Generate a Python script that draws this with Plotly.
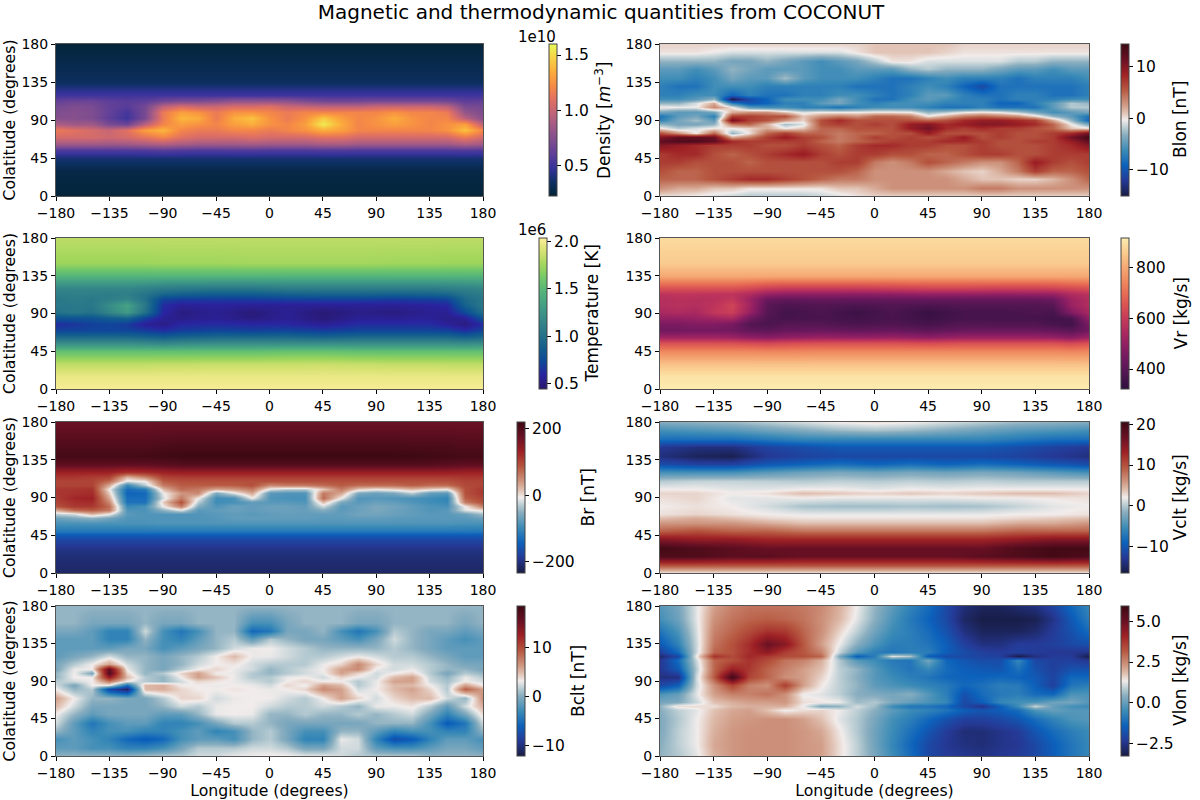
import plotly.graph_objects as go

LON_15 = [-180, -165, -150, -135, -120, -105, -90, -75, -60, -45, -30, -15, 0,
          15, 30, 45, 60, 75, 90, 105, 120, 135, 150, 165, 180]
LON_COARSE = [-180, -165, -150, -135, -120, -105, -90, -75, -45, -15, 15, 45, 75,
              105, 135, 150, 165, 180]
LON_30 = [-180, -150, -120, -90, -60, -30, 0, 30, 60, 90, 120, 150, 180]
TICKS_LON = [-180, -135, -90, -45, 0, 45, 90, 135, 180]
TICKS_CLT = [0, 45, 90, 135, 180]

DENSITY_CLT = [0, 30, 45, 55, 62, 70, 78, 85, 92, 100, 107, 113, 120, 135, 180]
DENSITY = [
    [.24,.24,.24,.24,.24,.24,.24,.24,.24,.24,.24,.24,.24,.24,.24,.24,.24,.24,.24,.24,.24,.24,.24,.24,.24],
    [.27,.27,.27,.27,.27,.27,.27,.27,.27,.27,.27,.27,.27,.27,.27,.27,.27,.27,.27,.27,.27,.27,.27,.27,.27],
    [.38,.38,.38,.38,.38,.38,.38,.38,.38,.38,.38,.38,.38,.38,.38,.38,.38,.38,.38,.38,.38,.38,.38,.38,.38],
    [.55,.55,.55,.55,.55,.56,.58,.56,.55,.55,.56,.56,.55,.55,.55,.56,.56,.55,.55,.55,.55,.55,.55,.56,.55],
    [.85,.85,.85,.84,.85,.88,.92,.88,.85,.85,.85,.87,.85,.85,.85,.88,.88,.85,.85,.85,.85,.85,.85,.9,.85],
    [1.05,1.05,1.05,1.02,1.05,1.12,1.2,1.1,1.05,1.05,1.05,1.08,1.05,1.05,1.05,1.1,1.1,1.05,1.05,1.05,1.05,1.05,1.05,1.15,1.05],
    [1.15,1.1,1.05,1.0,1.1,1.3,1.38,1.2,1.15,1.15,1.2,1.2,1.15,1.2,1.25,1.35,1.3,1.2,1.2,1.2,1.2,1.2,1.25,1.42,1.2],
    [.9,.85,.85,.7,.65,.95,1.2,1.3,1.25,1.2,1.3,1.35,1.25,1.2,1.3,1.55,1.35,1.2,1.25,1.3,1.25,1.2,1.25,1.3,.95],
    [.75,.75,.72,.6,.5,.7,1.15,1.38,1.35,1.15,1.35,1.42,1.25,1.15,1.25,1.45,1.3,1.2,1.25,1.35,1.25,1.2,1.2,.95,.75],
    [.72,.75,.72,.62,.52,.7,1.15,1.3,1.25,1.15,1.25,1.25,1.2,1.15,1.2,1.2,1.2,1.2,1.2,1.25,1.2,1.2,1.15,.8,.72],
    [.68,.72,.7,.62,.58,.68,.95,1.05,1.0,1.0,1.05,1.05,1.08,1.0,.98,.95,.95,.95,1.0,1.0,1.0,1.0,.95,.7,.68],
    [.62,.65,.65,.6,.58,.6,.68,.72,.72,.75,.8,.8,.8,.78,.72,.68,.68,.68,.7,.7,.7,.7,.68,.6,.62],
    [.5,.5,.5,.5,.5,.5,.5,.5,.5,.5,.5,.5,.5,.5,.5,.5,.5,.5,.5,.5,.5,.5,.5,.5,.5],
    [.33,.33,.33,.33,.33,.33,.33,.33,.33,.33,.33,.33,.33,.33,.33,.33,.33,.33,.33,.33,.33,.33,.33,.33,.33],
    [.24,.24,.24,.24,.24,.24,.24,.24,.24,.24,.24,.24,.24,.24,.24,.24,.24,.24,.24,.24,.24,.24,.24,.24,.24],
]

COARSE_CLT = [0, 15, 30, 45, 55, 62, 70, 78, 85, 92, 100, 107, 113, 120, 135, 150, 180]
TEMPERATURE = [
    [2.02,2.02,2.02,2.02,2.02,2.02,2.02,2.02,2.02,2.02,2.02,2.02,2.02,2.02,2.02,2.02,2.02,2.02],
    [1.97,1.97,1.97,1.97,1.97,1.97,1.97,1.97,1.97,1.97,1.97,1.97,1.97,1.97,1.97,1.97,1.97,1.97],
    [1.84,1.84,1.84,1.84,1.84,1.84,1.85,1.85,1.86,1.86,1.86,1.87,1.86,1.85,1.85,1.84,1.84,1.84],
    [1.55,1.55,1.55,1.55,1.55,1.55,1.55,1.55,1.55,1.55,1.57,1.57,1.55,1.55,1.55,1.55,1.55,1.55],
    [1.2,1.2,1.2,1.2,1.2,1.18,1.15,1.18,1.2,1.2,1.2,1.2,1.2,1.2,1.2,1.2,1.18,1.2],
    [.95,.95,.95,.95,.95,.92,.88,.92,.95,.95,.95,.92,.95,.95,.95,.95,.9,.95],
    [.72,.72,.72,.72,.72,.68,.62,.68,.72,.7,.72,.68,.72,.72,.72,.7,.62,.72],
    [.62,.66,.7,.72,.68,.55,.52,.6,.62,.6,.6,.55,.62,.62,.62,.56,.5,.62],
    [.8,.8,.8,.85,.9,.7,.55,.52,.55,.5,.55,.48,.55,.55,.56,.52,.55,.8],
    [1.0,1.05,1.0,1.15,1.3,1.0,.6,.5,.55,.48,.55,.47,.52,.5,.55,.55,.75,1.0],
    [1.05,1.05,1.05,1.2,1.35,1.05,.62,.55,.57,.55,.55,.55,.55,.55,.57,.6,.9,1.05],
    [1.05,1.08,1.05,1.1,1.15,1.0,.72,.68,.68,.68,.7,.7,.7,.68,.7,.72,.95,1.05],
    [1.08,1.1,1.1,1.08,1.1,1.02,.92,.88,.85,.85,.88,.9,.9,.88,.9,.92,1.02,1.08],
    [1.15,1.15,1.15,1.15,1.15,1.12,1.08,1.06,1.05,1.05,1.08,1.08,1.08,1.08,1.08,1.1,1.12,1.15],
    [1.47,1.47,1.47,1.47,1.47,1.47,1.47,1.47,1.47,1.47,1.47,1.47,1.47,1.47,1.47,1.47,1.47,1.47],
    [1.74,1.74,1.74,1.74,1.74,1.74,1.75,1.75,1.75,1.76,1.76,1.76,1.76,1.75,1.75,1.74,1.74,1.74],
    [1.83,1.83,1.83,1.83,1.83,1.83,1.83,1.83,1.83,1.83,1.83,1.83,1.83,1.83,1.83,1.83,1.83,1.83],
]

VR = [
    [915,915,915,915,915,915,915,915,915,915,915,915,915,915,915,915,915,915],
    [900,900,900,900,900,900,900,900,900,900,900,900,900,900,900,900,900,900],
    [845,845,845,845,845,845,845,845,845,845,845,845,845,845,845,845,845,845],
    [745,745,745,745,745,745,740,740,745,745,745,745,745,745,745,745,740,745],
    [650,650,650,650,650,640,630,640,650,650,650,640,650,650,650,650,635,650],
    [520,520,520,520,515,490,480,495,510,500,510,490,510,510,510,500,480,520],
    [440,440,445,445,440,415,405,420,425,415,420,405,425,425,425,415,400,440],
    [455,460,470,470,450,390,375,390,390,375,385,365,390,385,385,370,355,455],
    [500,500,510,525,540,440,380,365,370,355,370,345,365,365,365,355,370,500],
    [540,550,540,590,610,510,395,360,375,345,375,340,365,365,375,370,470,540],
    [560,570,560,580,620,530,400,375,385,375,385,375,385,385,385,395,510,560],
    [560,570,565,570,590,520,430,415,420,420,420,420,420,420,420,430,520,560],
    [575,585,580,575,580,550,505,490,490,485,490,500,500,495,500,505,550,575],
    [650,650,650,650,650,635,610,600,600,600,610,620,620,615,615,620,635,650],
    [800,800,800,800,800,800,800,800,800,800,800,800,800,800,800,800,800,800],
    [860,860,860,860,860,860,860,860,860,860,860,860,860,860,860,860,860,860],
    [885,885,885,885,885,885,885,885,885,885,885,885,885,885,885,885,885,885],
]

BLON_CLT = [0, 10, 20, 30, 40, 50, 60, 65, 70, 75, 80, 85, 90, 95, 100, 105, 110, 115, 120, 130, 140, 150, 160, 170, 180]
BLON = [
    [0,0,-.5,-1,-1.5,-2,-2,-2,-2,-1.5,-1,0,.5,.5,.5,.5,.5,.5,.5,.5,.5,.5,.5,.5,.5],
    [3,2,2,1,1,0,0,0,0,0,1,1,2,3,3,3,3,3,4,4,3,3,3,3,3],
    [5,5,5,6,7,8,8,7,6,5,4,4,3,3,3,3,3,2,1,1,.5,.5,1.5,3,5],
    [6,5,5,6,6,6,6,6,6,6,6,5,3,3,3,3,2,1,.5,2,4,7,5,5,6],
    [7,7,6,6,6,5,6,6,6,6,7,7,4,3,4,6,5,4,3,3,5,9,7,6,7],
    [7,8,8,6,5,6,7,8,9,7,6,7,7,6,6,5,5,6,7,7,6,6,7,7,7],
    [10,9,8,7,7,7,6,6,7,6,5,7,8,8,7,7,6,6,7,6,6,6,7,8,10],
    [12,13,13,12,8,7,7,7,7,5,4,5,6,7,7,7,8,8,7,6,6,7,7,9,12],
    [10,12,12,11.5,2,4,7,9,7,6,4,5,7,6,7,6,7,9,6,7,6,6,7,11,14],
    [6,3,-.3,5,-3,0,5,7,5,5,4,5,5,6,6,9,6,6,6,7,6,6,7,8,11],
    [0,-2,-1,-.2,-.3,.5,2,-.3,1,5,5,6,6,6,9,11,8,7,8,7,7,6,5,1,0],
    [-3,-4,-4,-3,4,5,1.5,-2.5,-1,6,7,6,7,6,9,10,8,9,10,10,9,8,5,-.3,-4],
    [-7,-4,-2.5,-5,11,7,6,3,.5,6,8,6,6,6,6,5,6,8,9,9,8,7,2,-3,-9],
    [-8,-5,-4,-7,7,7,6,6,1,3,4,3,5,5,4,0,2,4,5,4,3,.5,-3,-5,-8],
    [-4,-5,-5,-4,2,3,3,1,-1,-.3,-.3,-.3,0,0,-.3,-3,-2,-.5,0,-.5,-2,-4,-6,-5,-4],
    [0,-.5,-.5,3.5,-.3,-5,-6,-6,-7,-7,-8,-7,-6,-6,-6,-7,-8,-8,-7,-8,-8,-8,-5,-2,-2],
    [-3,-3,-1,2,-7,-10,-9,-7,-7,-5,-4,-6,-7,-6,-6,-6,-7,-7,-7,-9,-9,-7,-5,-2,-3],
    [-6,-6,-5,-3,-15,-11,-9,-6,-6,-6,-4,-6,-8,-8,-6,-5,-6,-7,-7,-8,-7,-7,-7,-6,-6],
    [-7,-7,-6,-6,-9,-7,-8,-8,-7,-7,-6,-6,-7,-8,-7,-5,-5,-7,-8,-8,-7,-7,-8,-8,-7],
    [-7,-8,-8,-6,-6,-6,-7,-7,-7,-7,-7,-8,-8,-8,-7,-6,-7,-9,-11,-8,-8,-8,-8,-8,-7],
    [-6,-6,-7,-6,-4,-5,-5,-2.5,-5,-6,-6,-6,-7,-8,-8,-7,-6,-7,-7,-7,-8,-7,-7,-7,-6],
    [-5,-5,-6,-5,-3,-4,-5,-5,-5,-6,-6,-5,-5,-5,-3,-2,-3,-3,-3,-4,-5,-5,-6,-5,-5],
    [-3,-3,-3,-3,-4,-4,-3,-4,-5,-6,-5,-4,-2,0,0,-1,-1,-1,-1,-1,-2,-2,-3,-3,-3],
    [0,0,0,-.5,-1,-1,-1,-1,-1,-1,-1,0,1,1,1,1,.5,0,0,0,0,0,0,0,0],
    [.5,.5,.5,.5,.5,.5,.5,.5,.5,.5,.5,.5,1,1,1,1,1,.5,.5,.5,.5,.5,.5,.5,.5],
]

BR_CLT = [0, 20, 30, 40, 45, 50, 60, 65, 70, 75, 80, 85, 90, 95, 100, 105, 110, 115, 120, 130, 140, 150, 180]
BR = [
    [-215,-215,-215,-215,-215,-215,-215,-215,-215,-215,-215,-215,-215,-215,-215,-215,-215,-215,-215,-215,-215,-215,-215,-215,-215],
    [-205,-205,-205,-205,-205,-205,-205,-205,-205,-205,-205,-205,-205,-205,-205,-205,-205,-205,-205,-205,-205,-205,-205,-205,-205],
    [-195,-195,-195,-195,-195,-195,-195,-195,-195,-195,-195,-195,-195,-195,-195,-195,-195,-195,-195,-195,-195,-195,-195,-195,-195],
    [-170,-170,-170,-170,-170,-170,-170,-170,-170,-170,-170,-170,-170,-170,-170,-170,-170,-170,-170,-170,-170,-170,-170,-170,-170],
    [-150,-150,-150,-150,-150,-150,-150,-150,-150,-150,-150,-150,-150,-150,-150,-150,-150,-150,-150,-150,-150,-150,-150,-150,-150],
    [-118,-118,-118,-118,-118,-118,-118,-118,-118,-118,-118,-118,-118,-118,-118,-118,-118,-118,-118,-118,-118,-118,-118,-118,-118],
    [-88,-88,-88,-88,-88,-88,-85,-85,-85,-85,-85,-85,-85,-85,-85,-85,-85,-85,-85,-85,-85,-85,-85,-88,-88],
    [-70,-60,-50,-65,-85,-85,-85,-85,-85,-82,-75,-75,-75,-75,-75,-78,-78,-75,-75,-78,-80,-80,-80,-80,-70],
    [-30,-20,20,-10,-80,-85,-85,-85,-85,-80,-75,-80,-75,-72,-75,-75,-75,-65,-65,-70,-75,-80,-80,-70,-40],
    [30,70,80,60,-85,-88,-50,-15,-80,-75,-70,-75,-70,-70,-72,-55,-78,-70,-60,-68,-75,-85,-80,-15,0],
    [90,110,110,70,-100,-90,-7,60,-55,-85,-70,-75,-70,-70,-75,-20,-80,-70,-60,-65,-75,-85,-90,-5,60],
    [100,115,120,50,-125,-125,10,90,-30,-95,-90,-75,-80,-80,-85,20,-60,-80,-70,-75,-85,-95,-100,60,90],
    [105,125,130,30,-130,-130,-20,60,-7,-95,-90,-10,-85,-90,-90,70,-10,-85,-80,-85,-90,-95,-105,80,100],
    [110,115,120,10,-140,-135,-10,40,50,-60,-15,30,-80,-85,-85,60,30,-60,-70,-60,-30,-75,-80,90,110],
    [110,112,115,-7,-130,-115,20,70,60,30,40,60,-15,-30,-30,10,60,10,-5,5,20,5,-5,90,110],
    [100,100,100,30,-100,-30,60,80,80,80,80,90,50,60,60,70,80,70,70,70,80,70,70,95,100],
    [100,100,100,70,-15,-5,80,90,90,90,90,90,90,90,90,90,90,90,90,90,90,90,90,100,100],
    [110,110,105,100,20,50,100,105,105,105,105,105,105,105,105,105,105,105,105,105,105,105,105,110,110],
    [130,130,130,130,115,120,130,135,135,135,135,135,135,135,135,135,135,135,135,135,135,135,135,130,130],
    [185,185,185,185,185,185,190,195,195,195,195,195,195,195,195,195,195,195,195,195,195,195,190,185,185],
    [210,210,210,210,210,212,215,218,218,218,218,218,218,218,218,218,218,218,218,218,218,215,212,210,210],
    [200,200,200,200,200,200,205,208,208,208,208,208,208,208,208,208,208,208,208,208,205,205,205,200,200],
    [172,172,172,172,172,172,172,172,172,172,172,172,172,172,172,172,172,172,172,172,172,172,172,172,172],
]

BCLT_CLT = [0, 10, 20, 30, 40, 50, 60, 70, 80, 85, 90, 95, 100, 105, 110, 120, 130, 140, 150, 160, 180]
BCLT = [
    [.5,.5,.5,.5,.5,1,1.5,1.5,2.3,2.3,3,3.2,3.4,3.4,3,3,2.3,1.5,1.5,1.5,1.5,.5,.5,.5,.5],
    [-1.5,-1.5,-2.5,-2.5,-3.5,-3.5,-2.5,-.5,1.5,1.5,1.5,2.3,2.3,1.5,-.5,-.5,2.3,2.3,-1.5,-2.5,-2.5,-1.5,-.5,-.5,-1.5],
    [-2.5,-1.5,-2.5,-3.5,-5.5,-6.5,-5.5,-2.5,-1.5,-1.5,-2.5,.5,1.5,-.5,-3.5,-3.5,3,2.3,-3.5,-7.5,-6.5,-3.5,-1.5,-1.5,-2.5],
    [.5,-1.5,-3.5,-2.5,-2.5,-3.5,-3.5,-2.5,-1.5,-3.5,-2.5,.5,1.5,-.5,-2.5,-2.5,.5,.5,-1.5,-3.5,-2.5,-2.5,-3.5,-3.5,.5],
    [2.3,-1.5,-4.5,-2.5,-1.5,-1.5,-3.5,-3.5,-2.5,-.5,1.5,1.5,.5,-.5,-.5,-.5,-.5,-.5,.5,.5,.5,-2.5,-6.5,-4.5,2.3],
    [3.2,.5,-1.5,-.5,-.5,-.5,-1.5,-1.5,.5,3,3.2,3,.5,.5,1.5,.5,.5,1.5,.5,1.5,2.3,-.5,-3.5,-.5,4],
    [5,2.3,-.5,-.5,-.5,-.5,.5,2.3,1.5,3,3.2,3.2,2.3,1.5,1.5,2.3,1.5,.5,3,3,3.5,1.5,-1.5,2.3,5.5],
    [6,3.2,.5,.5,-.5,-.5,1.5,4,4,2.3,3,3.2,3.2,2.3,1.5,3.2,6,4,2.3,4,5,5,2.3,.5,7],
    [3.2,.5,1.5,-8,-11,5,5.5,4,3.2,3.2,3.5,3.2,3,3.2,4,7,6,2.3,3.2,5,6,4,1.5,9,6],
    [2.3,-.5,3.2,3,-5,5,5.5,3.2,3.2,3,3.2,3,2.3,4,3,6,5,1.5,3,5,5,3.2,1.5,6,3.2],
    [1.5,2.3,3.2,8,3.2,1.5,.5,2.3,4,3.5,3,2.3,1.5,3.2,4,3.2,3.2,1.5,3,6,6,2.3,1,3.2,2.3],
    [.5,3.2,3.2,13,5,1.5,.5,3.2,6,4.5,3,1.5,1.5,3,3.2,2.3,4,3,2.3,5,6,2,.5,3,1.5],
    [.5,3.2,-.5,17,4,.5,1.5,4,6,3.2,3,1.5,.5,1.5,2.3,3,6,4,2.3,3.2,4,1.5,-.5,1.5,.5],
    [-.5,3,3.2,16,3,.5,-.5,1.5,3.2,4,3,2.3,.5,1.5,2.3,3.2,6,7,3,2.3,3,1.5,.5,.5,-.5],
    [-.5,1.5,3.2,6,2.3,.5,-.5,.5,2.3,3.2,3.5,2.3,1.5,1.5,1.5,3,4,7,4,2.3,2.3,1.5,.5,-.5,-.5],
    [-1.5,-.5,.5,2.3,.5,.5,-.5,.5,1.5,3.2,5,3,3,2.3,1.5,1.5,2.3,3,2.3,1.5,1.5,.5,-.5,-1.5,-1.5],
    [-1.5,-1.5,-1.5,-1.5,-.5,-.5,-2.5,-1.5,-.5,.5,2.3,3,3.2,2.3,1.5,.5,.5,.5,.5,1.5,.5,-.5,-1.5,-1.5,-1.5],
    [-1.5,-1.5,-1.5,-3.5,-3.5,.5,-2.5,-3.5,-1.5,.5,1.5,-1.5,1.5,.5,-.5,-.5,-1.5,-2.5,-.5,2.3,.5,-.5,-1.5,-2.5,-1.5],
    [-.5,-.5,-1.5,-3.5,-3.5,2.3,-2.5,-4.5,-2.5,.5,.5,-5.5,-4.5,-.5,-.5,.5,-2.5,-4.5,-2.5,1.5,.5,-.5,-.5,-1.5,-.5],
    [.5,.5,-.5,-.5,-.5,.5,-.5,-.5,.5,.5,.5,-2.5,-2.5,-.5,.5,.5,.5,-.5,-.5,.5,.5,.5,.5,-.5,.5],
    [.5,.5,.5,.5,.5,.5,.5,.5,.5,.5,.5,.5,.5,.5,.5,.5,.5,.5,.5,.5,.5,.5,.5,.5,.5],
]

VCLT_CLT = [0, 10, 20, 30, 40, 50, 60, 65, 70, 80, 90, 95, 100, 110, 120, 130, 140, 150, 160, 170, 180]
VCLT = [
    [2,2,2,2,2,2,2,2,2,2,2,2,2],
    [10,10,10,10,10,10,10,10,10,10,10,10,10],
    [19,19,18,18,17,17,17,17,17,18,19,20,19],
    [20,19,18,17,17,17,17,17,17,17,19,20,20],
    [15,14,14,13,13,13,13,13,13,13,14,15,15],
    [9,10,9,9,8,8,8,8,8,8,9,9,9],
    [6,6,6,5,4,4,4,4,4,4,5,5,6],
    [4,5,4,3,2.5,2.5,2.5,2.5,2.5,2.5,3,3.5,4],
    [2.5,3,2.5,2,1.7,1.7,1.7,1.7,1.7,1.7,2,2,2.5],
    [2,2.5,2,1,-.5,-.8,-.8,-.5,-.8,-.5,.5,1.5,2],
    [2.5,3,1.5,1.5,1.8,1.5,1.5,1.5,1.5,1.8,1.8,2.2,2.5],
    [3,3,2,2.5,4,3.5,3,3.5,3,3.5,4,4,3],
    [2,2,1.5,1.5,2,2,1.5,2,1.8,2,2,2,2],
    [0,.5,.5,.3,0,.3,0,.3,0,.3,0,0,0],
    [-5,-5,-5,-4,-3,-2.5,-3,-2.5,-3,-2.5,-3,-4,-5],
    [-11,-12,-12,-10,-9,-8,-9,-8,-9,-8,-9,-10,-11],
    [-14,-15.5,-16,-13,-12,-11.5,-11.5,-11.5,-11.5,-11.5,-12,-13,-14],
    [-13,-14,-14,-12,-11,-10,-10,-10,-10,-10,-11,-12,-13],
    [-8,-8,-8,-7,-6,-6,-6,-6,-6,-6,-7,-8,-8],
    [-5,-4.5,-4,-3,-2,-1,-.5,-1,-2,-3,-4,-4.5,-5],
    [-2,-1.5,-1,0,1,2,2.5,2,1,0,-1,-1.5,-2],
]

VLON_CLT = [0, 15, 30, 45, 55, 60, 65, 75, 85, 95, 105, 115, 120, 125, 135, 150, 165, 180]
VLON = [
    [.5,.8,1.2,2,2.3,2.4,2.4,2.4,2.3,2.2,1.5,.9,.2,-.5,-1.2,-2,-2.3,-2.4,-2.5,-2.4,-2.3,-2,-1.5,-1,-.6],
    [.4,.9,1.3,2.1,2.3,2.4,2.4,2.4,2.3,2.2,1.5,.9,.1,-.6,-1.3,-2,-2.4,-2.6,-2.7,-2.5,-2.4,-2,-1.5,-1,-.6],
    [.3,.9,1.3,2,2.3,2.4,2.4,2.4,2.3,2.1,1.4,.8,.1,-.5,-1.1,-1.7,-2.3,-2.7,-2.7,-2.5,-2.3,-1.7,-1.2,-.8,-.5],
    [.3,.8,1.3,1.9,2.2,2.3,2.4,2.4,2.2,1.8,1.2,.8,.2,-.4,-.8,-1.3,-1.8,-2.2,-2.2,-2,-1.7,-1.2,-.7,-.3,-.2],
    [.4,.9,1.2,1.8,2.1,2.2,1.8,1.3,1.5,1.6,1.3,.9,.4,-.1,-.5,-.7,-1,-1.5,-1.7,-1.5,-1.2,-.3,0,-.2,-.2],
    [.5,1.5,1.5,1.5,1.9,2,2,2,1.3,.3,.5,1.1,.6,-.5,-1,-1,-1.3,-2,-2.5,-1.5,-.5,1,0,-.4,-.5],
    [.2,.3,1,1.8,2,2.2,2.2,2.3,1.5,1.4,1.3,.6,.8,.3,0,-.3,-.6,-2,-1.5,-.6,-.4,-.3,.1,.2,-.2],
    [-.3,0,1.2,2.2,2.6,2.6,2.8,2.4,1.3,1.2,.9,.4,.3,.2,.4,-.2,-.8,-1.8,-1.2,-.9,-.8,-1.2,-1.3,-.3,-.3],
    [-2,-1.5,1,2.4,3.5,2.6,2.4,3.6,2.2,1.4,.9,.5,-.1,-.3,-.5,-.7,-.9,-1.3,-1.1,-.8,-.9,-1.5,-2.2,-1,-.8],
    [-2.6,-2.6,1,3.2,5.8,3.5,3,2.4,2.2,1.6,.9,.4,-.2,-.5,-.8,-1,-1.3,-1.4,-1.4,-1.3,-1.4,-1.6,-2.1,-1.3,-1.3],
    [-2.4,-1.6,.8,3,4.2,3.7,3,2.6,2.2,1.8,.9,.5,-.2,-.7,-1,-.6,-1.2,-1.5,-1.6,-1.7,-1.1,-1.8,-2.2,-1.8,-1.8],
    [-2.4,-1.2,1,3,3.3,3.8,3.4,2.8,2.6,2,.8,-.2,-.5,-.9,-1,.2,-1.3,-1.7,-1.9,-1.9,-.6,-2,-2.2,-2.2,-2.4],
    [-2.8,-2,1.3,3.8,3.4,4,3.7,3.4,3.3,3,.3,-1.5,-.8,1.2,.8,-1.5,-1.9,-2,-2.1,-2.2,-3.2,-2.6,-2.3,-2.3,-3.2],
    [-2.2,-1.2,1,3,3.3,3.9,4.4,3.6,3.2,2.6,1,-.2,-.8,-1,-.8,-.8,-1.5,-1.9,-2.2,-2.3,-2.2,-2.3,-2.4,-2.4,-2.5],
    [-1.6,-.7,1,2.8,3.3,3.9,5,4.5,3.2,2.2,1.3,.4,-.3,-.8,-.8,-1,-1.5,-2.2,-2.6,-2.6,-2.3,-2.3,-2.2,-2,-1.8],
    [-1,-.3,1.1,2.6,3,3.4,3.8,3.7,3,2.4,1.6,.9,.1,-.5,-.8,-1.2,-1.8,-2.6,-3,-3,-3,-2.8,-2.3,-1.8,-1.2],
    [-.4,.1,1.2,2.4,2.8,3,3.1,3,2.8,2.4,1.9,1.2,.4,-.3,-.9,-1.4,-2,-2.9,-3.2,-3.2,-3.2,-3.1,-2.5,-1.6,-.8],
    [-.2,.2,1.2,2.2,2.6,2.8,2.8,2.8,2.7,2.5,2,1.3,.5,-.1,-.7,-1.2,-2,-2.7,-3,-3,-2.8,-2.6,-2.1,-1.3,-.6],
]

# cmocean balance, with its near-white centre kept
BALANCE = [
    [0, "rgb(24,28,67)"], [.1, "rgb(37,57,150)"], [.2, "rgb(12,97,187)"], [.3, "rgb(59,139,183)"],
    [.4, "rgb(136,173,191)"], [.45, "rgb(186,205,211)"], [.5, "rgb(241,236,235)"], [.55, "rgb(224,192,177)"],
    [.6, "rgb(208,154,132)"], [.7, "rgb(183,88,65)"], [.8, "rgb(159,33,37)"], [.9, "rgb(105,16,36)"],
    [1, "rgb(60,9,18)"],
]

W, H = 1200, 800
LEFT_X, RIGHT_X = (56, 483), (660, 1089)
ROWS_Y = [(44, 196), (238, 389), (422, 573), (606, 756)]

# lon, colat, z, colormap, zmin, zmax, ticks, fmt, label, row, col, bar px, label px
PANELS = [
    (LON_15, DENSITY_CLT, DENSITY, "thermal", .22, 1.60, [.5, 1.0, 1.5], ".1f",
     "Density [<i>m</i><sup>−3</sup>]", 0, 0, 549, 603),
    (LON_15, BLON_CLT, BLON, BALANCE, -15.1, 14.4, [-10, 0, 10], "d", "Blon [nT]", 0, 1, 1121, 1180),
    (LON_COARSE, COARSE_CLT, TEMPERATURE, "haline", .44, 2.04, [.5, 1.0, 1.5, 2.0], ".1f",
     "Temperature [K]", 1, 0, 539, 591),
    (LON_COARSE, COARSE_CLT, VR, "matter_r", 321, 918, [400, 600, 800], "d", "Vr [kg/s]", 1, 1, 1121, 1180),
    (LON_15, BR_CLT, BR, BALANCE, -233, 219, [-200, 0, 200], "d", "Br [nT]", 2, 0, 517, 588),
    (LON_30, VCLT_CLT, VCLT, BALANCE, -16.6, 20.6, [-10, 0, 10, 20], "d", "Vclt [kg/s]", 2, 1, 1121, 1180),
    (LON_15, BCLT_CLT, BCLT, BALANCE, -12.1, 18.5, [-10, 0, 10], "d", "Bclt [nT]", 3, 0, 517, 578),
    (LON_15, VLON_CLT, VLON, BALANCE, -3.27, 5.94, [-2.5, 0, 2.5, 5], ".1f", "Vlon [kg/s]", 3, 1, 1121, 1180),
]

FONT = "DejaVu Sans"
fig = go.Figure()
for i, (lon, clt, z, cmap, zmin, zmax, ticks, fmt, label, row, col, bar_x, label_x) in enumerate(PANELS, start=1):
    x0, x1 = RIGHT_X if col else LEFT_X
    top, bottom = ROWS_Y[row]
    fig.add_trace(go.Heatmap(
        x=lon, y=clt, z=z, colorscale=cmap, zmin=zmin, zmax=zmax, zsmooth="best",
        xaxis=f"x{i}", yaxis=f"y{i}",
        colorbar=dict(
            x=bar_x / W, xanchor="left", xref="paper", thickness=8, thicknessmode="pixels",
            y=1 - bottom / H, yanchor="bottom", yref="paper", len=(bottom - top) / H, lenmode="fraction",
            tickvals=ticks, tickformat=fmt, ticks="outside", ticklen=4, tickcolor="black",
            tickfont=dict(family=FONT, size=15.5, color="black"),
            outlinecolor="#444", outlinewidth=1, xpad=0, ypad=0,
        ),
    ))
    suffix = "" if i == 1 else str(i)
    fig.update_layout({
        f"xaxis{suffix}": dict(
            domain=[x0 / W, x1 / W], anchor=f"y{i}", range=[-180, 180], automargin=False,
            tickvals=TICKS_LON, ticks="outside", ticklen=4, tickcolor="black",
            showline=True, mirror=True, linecolor="#555", showgrid=False, zeroline=False,
            tickfont=dict(family=FONT, size=14, color="black"),
            title=dict(text="Longitude (degrees)", font=dict(family=FONT, size=15.7, color="black"), standoff=3) if row == 3 else None,
        ),
        f"yaxis{suffix}": dict(
            domain=[1 - bottom / H, 1 - top / H], anchor=f"x{i}", range=[0, 180], automargin=False,
            tickvals=TICKS_CLT, ticks="outside", ticklen=4, tickcolor="black",
            showline=True, mirror=True, linecolor="#555", showgrid=False, zeroline=False,
            tickfont=dict(family=FONT, size=14, color="black"),
            title=dict(text="Colatitude (degrees)", font=dict(family=FONT, size=15.7, color="black"), standoff=4) if col == 0 else None,
        ),
    })
    fig.add_annotation(
        text=label, x=label_x / W, y=1 - (top + bottom) / 2 / H, xref="paper", yref="paper",
        xanchor="center", yanchor="middle", showarrow=False, textangle=-90,
        font=dict(family=FONT, size=17, color="black"),
    )

fig.add_annotation(text="1e10", x=537 / W, y=1 - 37 / H, xref="paper", yref="paper", showarrow=False,
                   xanchor="center", yanchor="middle", font=dict(family=FONT, size=15, color="black"))
fig.add_annotation(text="1e6", x=532 / W, y=1 - 230 / H, xref="paper", yref="paper", showarrow=False,
                   xanchor="center", yanchor="middle", font=dict(family=FONT, size=15, color="black"))

fig.update_layout(
    title=dict(text="Magnetic and thermodynamic quantities from COCONUT", x=601 / W, xanchor="center",
               y=1 - 12 / H, yanchor="middle", font=dict(family=FONT, size=20, color="black")),
    width=W, height=H, margin=dict(l=0, r=0, t=0, b=0, autoexpand=False),
    paper_bgcolor="white", plot_bgcolor="white",
)
# the page's default 8px body margin would push the figure off its 1200x800 frame
fig.write_html("out.html", config={"displayModeBar": False},
               post_script="document.body.style.margin = '0';")
